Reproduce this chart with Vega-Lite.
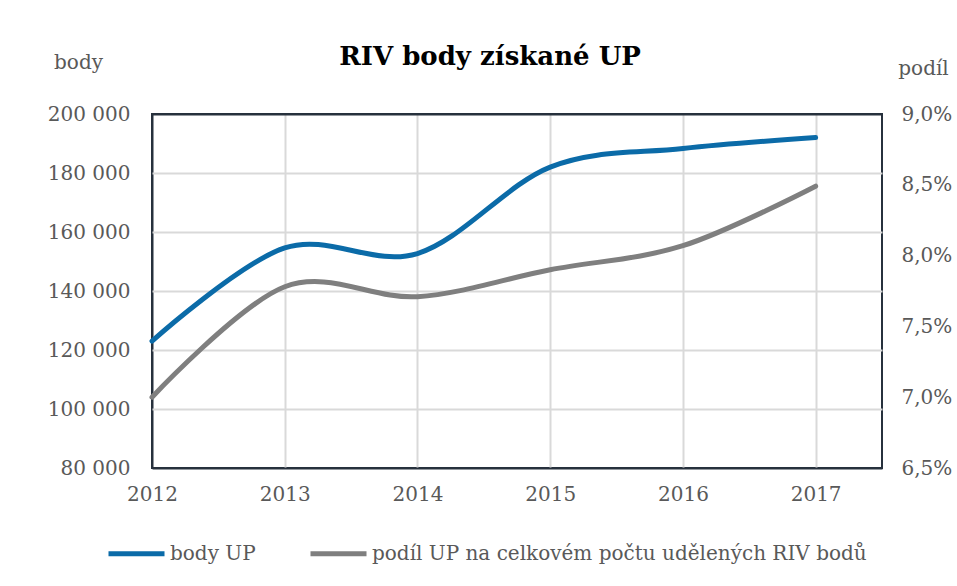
{
  "$schema": "https://vega.github.io/schema/vega-lite/v6.json",
  "autosize": {"type": "none"},
  "padding": {"left": 152, "top": 114, "right": 75, "bottom": 118},
  "width": 730,
  "height": 354,
  "background": "white",
  "config": {
    "locale": {"number": {"decimal": ",", "thousands": " ", "grouping": [3], "currency": ["", ""]}},
    "font": "DejaVu Serif",
    "view": {"stroke": "#27313d", "strokeWidth": 2},
    "axis": {"labelFont": "DejaVu Serif", "labelFontSize": 20, "labelColor": "#595959", "titleFont": "DejaVu Serif", "titleFontSize": 20, "titleFontWeight": "normal", "titleColor": "#595959", "domain": false, "ticks": false, "gridColor": "#d9d9d9", "gridWidth": 2}
  },
  "title": {"text": "RIV body získané UP", "font": "DejaVu Serif", "fontSize": 26, "fontWeight": "bold", "color": "#000000", "anchor": "middle", "dx": -27, "dy": 22},
  "data": {"values": [
    {"rok": 2012, "body": 123000, "podil": 0.0700},
    {"rok": 2013, "body": 154600, "podil": 0.0778},
    {"rok": 2014, "body": 152700, "podil": 0.0771},
    {"rok": 2015, "body": 182000, "podil": 0.0790},
    {"rok": 2016, "body": 188300, "podil": 0.0807},
    {"rok": 2017, "body": 192000, "podil": 0.0849}
  ]},
  "encoding": {
    "x": {"field": "rok", "type": "quantitative", "scale": {"domain": [2012, 2017.5], "nice": false, "zero": false},
      "axis": {"values": [2012, 2013, 2014, 2015, 2016, 2017], "format": "d", "title": null, "labelPadding": 16, "grid": true, "labelFlush": false,
        "gridColor": {"condition": {"test": "datum.value === 2012", "value": "#27313d"}, "value": "#d9d9d9"}}}
  },
  "layer": [
    {
      "mark": {"type": "line", "interpolate": "cardinal", "strokeWidth": 5, "strokeCap": "round"},
      "encoding": {
        "y": {"field": "body", "type": "quantitative", "scale": {"domain": [80000, 200000], "nice": false, "zero": false},
          "axis": {"orient": "left", "values": [80000, 100000, 120000, 140000, 160000, 180000, 200000], "format": ",d", "grid": true, "labelPadding": 22, "title": "body", "titleAngle": 0, "titleAlign": "center", "titleBaseline": "middle", "titleX": -74, "titleY": -52,
            "gridColor": {"condition": {"test": "datum.value === 200000 || datum.value === 80000", "value": "#27313d"}, "value": "#d9d9d9"}}},
        "color": {"datum": "body UP", "type": "nominal",
          "scale": {"domain": ["body UP", "podíl UP na celkovém počtu udělených RIV bodů"], "range": ["#0b6ba8", "#7f7f7f"]},
          "legend": {"orient": "none", "legendX": -46, "legendY": 409, "direction": "horizontal", "title": null, "symbolType": "stroke", "symbolSize": 3136, "symbolStrokeWidth": 5, "labelFont": "DejaVu Serif", "labelFontSize": 20, "labelColor": "#595959", "labelOffset": 3, "columnPadding": 44, "labelLimit": 0}}
      }
    },
    {
      "mark": {"type": "line", "interpolate": "cardinal", "strokeWidth": 5, "strokeCap": "round"},
      "encoding": {
        "y": {"field": "podil", "type": "quantitative", "scale": {"domain": [0.065, 0.09], "nice": false, "zero": false},
          "axis": {"orient": "right", "values": [0.065, 0.07, 0.075, 0.08, 0.085, 0.09], "format": ".1%", "grid": false, "labelPadding": 19, "title": "podíl", "titleAngle": 0, "titleAlign": "center", "titleBaseline": "middle", "titleX": 41, "titleY": -46}},
        "color": {"datum": "podíl UP na celkovém počtu udělených RIV bodů", "type": "nominal"}
      }
    }
  ],
  "resolve": {"scale": {"y": "independent"}}
}
